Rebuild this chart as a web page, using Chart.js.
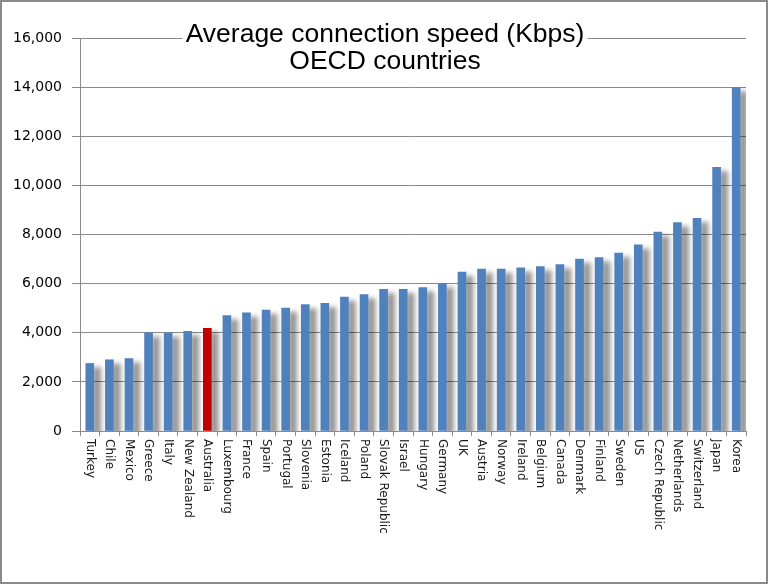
<!DOCTYPE html>
<html>
<head>
<meta charset="utf-8">
<script src="https://cdn.jsdelivr.net/npm/chart.js@4.4.1/dist/chart.umd.min.js"></script>
<style>
  html, body { margin: 0; padding: 0; background: #fff; }
  #wrap { width: 770px; height: 585px; position: relative; }
</style>
</head>
<body>
<div id="wrap"><canvas id="chart" width="770" height="585"></canvas></div>
<script>
const countries = [
  'Turkey', 'Chile', 'Mexico', 'Greece', 'Italy', 'New Zealand', 'Australia',
  'Luxembourg', 'France', 'Spain', 'Portugal', 'Slovenia', 'Estonia', 'Iceland',
  'Poland', 'Slovak Republic', 'Israel', 'Hungary', 'Germany', 'UK', 'Austria',
  'Norway', 'Ireland', 'Belgium', 'Canada', 'Denmark', 'Finland', 'Sweden', 'US',
  'Czech Republic', 'Netherlands', 'Switzerland', 'Japan', 'Korea'
];
const speeds = [
  2750, 2900, 2950, 4000, 4000, 4060, 4180,
  4700, 4810, 4920, 5000, 5150, 5200, 5450,
  5550, 5770, 5770, 5840, 6000, 6470, 6590,
  6590, 6640, 6690, 6780, 7000, 7060, 7240, 7580,
  8100, 8490, 8660, 10730, 13980
];
const yTicks = [0, 2000, 4000, 6000, 8000, 10000, 12000, 14000, 16000];
const highlight = 'Australia';
const titleLines = ['Average connection speed (Kbps)', 'OECD countries'];

const barColors = countries.map(c => c === highlight ? '#c00000' : '#4f81bd');

// soft grey shadow to the right of the bars
const shadowPlugin = {
  id: 'barShadow',
  beforeDatasetsDraw(chart) {
    const ctx = chart.ctx;
    ctx.save();
    ctx.shadowColor = 'rgba(0,0,0,0.42)';
    ctx.shadowOffsetX = 7;
    ctx.shadowOffsetY = 4;
    ctx.shadowBlur = 5;
  },
  afterDatasetsDraw(chart) {
    chart.ctx.restore();
  }
};

// labels read top to bottom, title with a white box, outer frame
const decorPlugin = {
  id: 'decor',
  afterDraw(chart) {
    const ctx = chart.ctx;
    const x = chart.scales.x;
    ctx.save();
    ctx.fillStyle = '#1a1a1a';
    ctx.font = '12px "DejaVu Sans"';
    ctx.textAlign = 'left';
    ctx.textBaseline = 'middle';
    countries.forEach((c, i) => {
      ctx.save();
      ctx.translate(x.getPixelForValue(i), chart.chartArea.bottom + 8);
      ctx.rotate(Math.PI / 2);
      ctx.fillText(c, 0, 0);
      ctx.restore();
    });

    const cx = (chart.chartArea.left + chart.chartArea.right) / 2 - 28;
    ctx.font = '26.5px "Liberation Sans"';
    const w = ctx.measureText(titleLines[0]).width;
    ctx.fillStyle = '#fff';
    ctx.fillRect(cx - w / 2 - 3, 22, w + 6, 28);
    ctx.fillStyle = '#000';
    ctx.textAlign = 'center';
    ctx.textBaseline = 'alphabetic';
    ctx.fillText(titleLines[0], cx, 42);
    ctx.fillText(titleLines[1], cx, 69);

    ctx.strokeStyle = '#8a8a8a';
    ctx.lineWidth = 2;
    ctx.strokeRect(1, 1, 766, 582);
    ctx.restore();
  }
};

new Chart(document.getElementById('chart'), {
  type: 'bar',
  data: {
    labels: countries,
    datasets: [{
      data: speeds,
      backgroundColor: barColors,
      borderWidth: 0,
      barThickness: 8
    }]
  },
  options: {
    responsive: false,
    animation: false,
    layout: { padding: { left: 0, right: 24, top: 38, bottom: 149 } },
    plugins: {
      legend: { display: false },
      title: { display: false },
      tooltip: { enabled: false }
    },
    scales: {
      x: {
        grid: {
          offset: true,
          drawOnChartArea: false,
          color: '#8a8a8a',
          tickLength: 5
        },
        border: { color: '#8a8a8a' },
        ticks: { display: false }
      },
      y: {
        min: 0,
        max: 16000,
        afterFit(scale) { scale.width = 80; },
        afterBuildTicks(scale) { scale.ticks = yTicks.map(v => ({ value: v })); },
        grid: { color: '#8a8a8a', tickLength: 8 },
        border: { color: '#8a8a8a' },
        ticks: {
          padding: 10,
          color: '#000',
          font: { family: 'DejaVu Sans', size: 14 },
          callback: v => v.toLocaleString('en-US')
        }
      }
    }
  },
  plugins: [shadowPlugin, decorPlugin]
});
</script>
</body>
</html>
